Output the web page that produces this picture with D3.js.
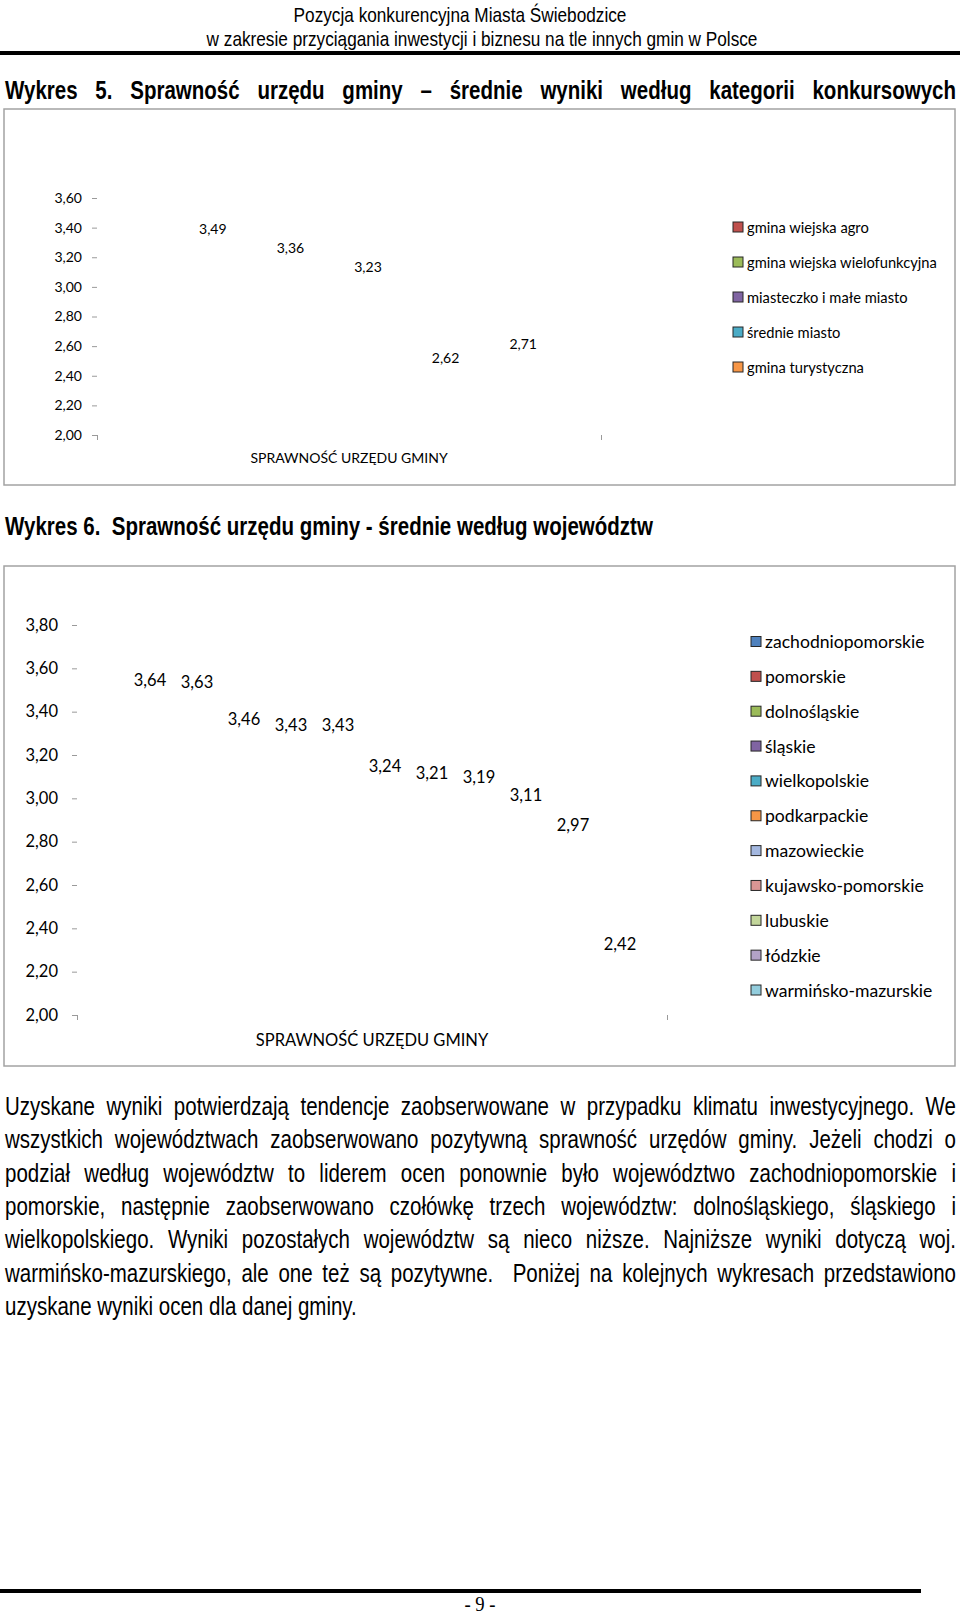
<!DOCTYPE html>
<html lang="pl">
<head>
<meta charset="utf-8">
<script src="https://cdn.jsdelivr.net/npm/d3@7"></script>
<style>
  html, body { margin: 0; padding: 0; background: #fff; }
  svg { display: block; }
</style>
</head>
<body>
<script>
// ---------- DATA ----------
const chart1Category = ["SPRAWNOŚĆ URZĘDU GMINY"];
const chart1Series = ["gmina wiejska agro", "gmina wiejska wielofunkcyjna", "miasteczko i małe miasto", "średnie miasto", "gmina turystyczna"];
const chart1Values = [3.49, 3.36, 3.23, 2.62, 2.71];
const chart1Ticks = [2.00, 2.20, 2.40, 2.60, 2.80, 3.00, 3.20, 3.40, 3.60];

const chart2Category = ["SPRAWNOŚĆ URZĘDU GMINY"];
const chart2Series = ["zachodniopomorskie", "pomorskie", "dolnośląskie", "śląskie", "wielkopolskie", "podkarpackie", "mazowieckie", "kujawsko-pomorskie", "lubuskie", "łódzkie", "warmińsko-mazurskie"];
const chart2Values = [3.64, 3.63, 3.46, 3.43, 3.43, 3.24, 3.21, 3.19, 3.11, 2.97, 2.42];
const chart2Ticks = [2.00, 2.20, 2.40, 2.60, 2.80, 3.00, 3.20, 3.40, 3.60, 3.80];

const headerLines = ["Pozycja konkurencyjna Miasta Świebodzice", "w zakresie przyciągania inwestycji i biznesu na tle innych gmin w Polsce"];
const title1 = "Wykres 5. Sprawność urzędu gminy – średnie wyniki według kategorii konkursowych";
const title2 = "Wykres 6.  Sprawność urzędu gminy - średnie według województw";
const paragraphLines = [
  "Uzyskane wyniki potwierdzają tendencje zaobserwowane w przypadku klimatu inwestycyjnego. We",
  "wszystkich województwach zaobserwowano pozytywną sprawność urzędów gminy. Jeżeli chodzi o",
  "podział według województw to liderem ocen ponownie było województwo zachodniopomorskie i",
  "pomorskie, następnie zaobserwowano czołówkę trzech województw: dolnośląskiego, śląskiego i",
  "wielkopolskiego. Wyniki pozostałych województw są nieco niższe. Najniższe wyniki dotyczą woj.",
  "warmińsko-mazurskiego, ale one też są pozytywne.  Poniżej na kolejnych wykresach przedstawiono",
  "uzyskane wyniki ocen dla danej gminy."
];
const pageNumber = "- 9 -";

// ---------- STYLES ----------
const palette1 = ["#C0504D", "#9BBB59", "#8064A2", "#4BACC6", "#F79646"];
const palette2 = ["#4F81BD", "#C0504D", "#9BBB59", "#8064A2", "#4BACC6", "#F79646", "#A4B8E0", "#D99694", "#C3D69B", "#B3A2C7", "#93CDDD"];
const fmt = d => d3.format(".2f")(d).replace(".", ",");
const DOC_FONT = "'Liberation Sans', Arial, sans-serif";
const SX = 0.82; // horizontal condensing to mimic a narrow face

const W = 960, H = 1617;

function draw() {
  const svg = d3.select("body").append("svg").attr("width", W).attr("height", H);
  svg.append("rect").attr("width", W).attr("height", H).attr("fill", "#fff");

  function narrow(g, str, x, y, size, weight, anchor) {
    return g.append("text")
      .attr("transform", `translate(${x},${y}) scale(${SX},1)`)
      .attr("font-family", DOC_FONT).attr("font-size", size).attr("font-weight", weight || "normal")
      .attr("text-anchor", anchor || "start").attr("dominant-baseline", "central")
      .attr("fill", "#000").text(str);
  }

  function textLine(g, text, x0, x1, yc, size, weight, justify) {
    const words = text.split(" ");
    const t = g.append("g");
    const nodes = words.map(w => narrow(t, w, 0, yc, size, weight));
    const widths = nodes.map(n => n.node().getComputedTextLength() * SX);
    const total = d3.sum(widths);
    const space = size * 0.278 * SX;
    const gap = justify && words.length > 1 ? (x1 - x0 - total) / (words.length - 1) : space;
    let x = x0;
    nodes.forEach((n, i) => {
      n.attr("transform", `translate(${x},${yc}) scale(${SX},1)`);
      x += widths[i] + gap;
    });
  }

  // ---------- HEADER ----------
  narrow(svg, headerLines[0], 460, 14.5, 21, "normal", "middle");
  narrow(svg, headerLines[1], 482, 39, 21, "normal", "middle");
  svg.append("line").attr("x1", 0).attr("x2", 960).attr("y1", 53).attr("y2", 53)
    .attr("stroke", "#000").attr("stroke-width", 4);

  // ---------- TITLE 1 ----------
  textLine(svg, title1, 5, 956, 90.5, 25, "bold", true);

  function drawChart(cfg) {
    const g = svg.append("g").attr("font-family", "Lato, 'Open Sans', sans-serif");
    g.append("rect").attr("x", cfg.frame[0]).attr("y", cfg.frame[1])
      .attr("width", cfg.frame[2]).attr("height", cfg.frame[3])
      .attr("fill", "none").attr("stroke", "#a3a3a3").attr("stroke-width", 1.5);

    const y = d3.scaleLinear().domain(cfg.domain).range(cfg.yRange);
    const xAxisScale = d3.scaleLinear().domain([0, 1]).range(cfg.xRange);
    const xCat = d3.scaleBand().domain(cfg.category).range(cfg.xRange);
    const xSer = d3.scaleBand().domain(cfg.series).range(cfg.innerRange).paddingInner(0.2).paddingOuter(0.1);

    // y axis
    const ya = g.append("g").attr("transform", `translate(${cfg.xRange[0]},0)`)
      .call(d3.axisLeft(y).tickValues(cfg.ticks).tickFormat(fmt).tickSize(5).tickPadding(cfg.yPad));
    ya.select(".domain").remove();
    ya.selectAll(".tick line").attr("stroke", "#9a9a9a");
    ya.selectAll(".tick text").attr("font-family", "Lato").attr("font-size", cfg.fs).attr("fill", "#000");

    // x axis (boundary ticks only)
    const xa = g.append("g").attr("transform", `translate(0,${cfg.yRange[0]})`)
      .call(d3.axisBottom(xAxisScale).tickValues([0, 1]).tickFormat("").tickSize(5));
    xa.select(".domain").remove();
    xa.selectAll(".tick line").attr("stroke", "#9a9a9a");

    // category label
    const xc = g.append("g").attr("transform", `translate(0,${cfg.yRange[0]})`)
      .call(d3.axisBottom(xCat).tickSize(0).tickPadding(cfg.catPad));
    xc.select(".domain").remove();
    xc.selectAll(".tick text").attr("font-family", "Lato").attr("font-size", cfg.catFs).attr("fill", "#000");

    // bars (drawn without fill, as in the source page)
    g.selectAll(".bar").data(cfg.values).join("rect")
      .attr("class", "bar")
      .attr("x", (d, i) => xSer(cfg.series[i]))
      .attr("width", xSer.bandwidth())
      .attr("y", d => y(d))
      .attr("height", d => y(cfg.domain[0]) - y(d))
      .attr("fill", "none");

    // value labels
    g.selectAll(".vlabel").data(cfg.values).join("text")
      .attr("class", "vlabel")
      .attr("x", (d, i) => xSer(cfg.series[i]) + xSer.bandwidth() / 2)
      .attr("y", d => y(d) + cfg.labelOffset)
      .attr("text-anchor", "middle").attr("dominant-baseline", "central")
      .attr("font-size", cfg.fs).attr("fill", "#000")
      .text(fmt);

    // legend
    const lg = g.append("g");
    cfg.series.forEach((s, i) => {
      const yy = cfg.legendY0 + i * cfg.legendStep;
      lg.append("rect").attr("x", cfg.legendX).attr("y", yy - cfg.sw / 2)
        .attr("width", cfg.sw).attr("height", cfg.sw)
        .attr("fill", cfg.palette[i]).attr("stroke", "#262626").attr("stroke-width", 1);
      lg.append("text").attr("x", cfg.legendX + cfg.sw + 4).attr("y", yy)
        .attr("dominant-baseline", "central").attr("font-size", cfg.legendFs)
        .attr("fill", "#000").text(s);
    });
  }

  // ---------- CHART 1 ----------
  drawChart({
    frame: [4, 109, 951, 376],
    domain: [2.0, 3.6], yRange: [435, 198],
    xRange: [97, 601], innerRange: [174, 562],
    category: chart1Category, series: chart1Series, values: chart1Values, ticks: chart1Ticks,
    palette: palette1, fs: 14, catFs: 14, yPad: 10, catPad: 18, labelOffset: 14,
    legendX: 733, legendY0: 227, legendStep: 35, sw: 10, legendFs: 14.7
  });

  // ---------- TITLE 2 ----------
  textLine(svg, title2, 5, 956, 526, 25, "bold", false);

  // ---------- CHART 2 ----------
  drawChart({
    frame: [4, 566, 951, 500],
    domain: [2.0, 3.8], yRange: [1015, 625],
    xRange: [77, 667], innerRange: [126.5, 643.5],
    category: chart2Category, series: chart2Series, values: chart2Values, ticks: chart2Ticks,
    palette: palette2, fs: 16.5, catFs: 16.5, yPad: 14, catPad: 19, labelOffset: 20,
    legendX: 751, legendY0: 641.5, legendStep: 34.85, sw: 10, legendFs: 17.6
  });

  // ---------- PARAGRAPH ----------
  paragraphLines.forEach((line, i) => {
    textLine(svg, line, 5, 956, 1106 + i * 33.4, 25, "normal", i < paragraphLines.length - 1);
  });

  // ---------- FOOTER ----------
  svg.append("line").attr("x1", 0).attr("x2", 921).attr("y1", 1591).attr("y2", 1591)
    .attr("stroke", "#000").attr("stroke-width", 4);
  svg.append("text").attr("transform", "translate(480,1603.5) scale(0.85,1)")
    .attr("text-anchor", "middle").attr("dominant-baseline", "central")
    .attr("font-family", "'Liberation Serif', 'Times New Roman', serif").attr("font-size", 22)
    .text(pageNumber);
}

if (document.fonts && document.fonts.ready) {
  document.fonts.ready.then(draw);
} else {
  draw();
}
</script>
</body>
</html>
